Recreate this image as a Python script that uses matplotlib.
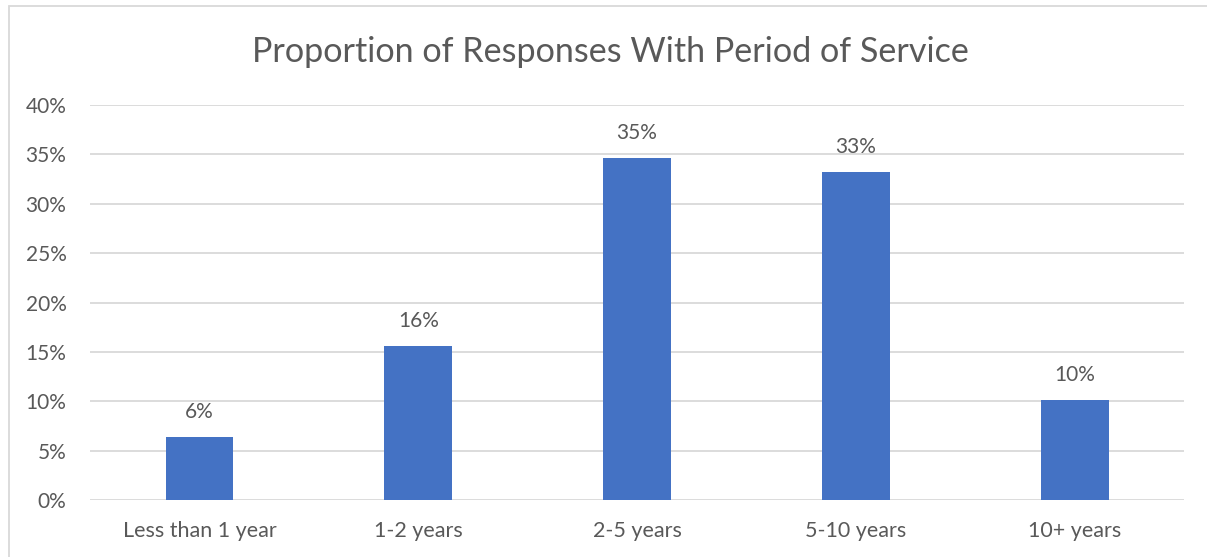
import matplotlib
matplotlib.use("Agg")
import matplotlib.pyplot as plt
from matplotlib.ticker import PercentFormatter, MultipleLocator
from matplotlib.patches import Rectangle

# data
categories = ["Less than 1 year", "1-2 years", "2-5 years", "5-10 years", "10+ years"]
shares = [0.064, 0.156, 0.346, 0.332, 0.101]
title = "Proportion of Responses With Period of Service"

barColor = "#4472C4"
textColor = "#595959"
gridColor = "#D9D9D9"

plt.rcParams["font.family"] = ["Lato", "DejaVu Sans"]

fig = plt.figure(figsize=(12.07, 5.57), dpi=100)
ax = fig.add_axes([0.0746, 0.1023, 0.9064, 0.7092])

x = range(len(categories))
bars = ax.bar(x, shares, width=0.31, color=barColor, zorder=3)

for rect, v in zip(bars, shares):
	ax.annotate("{:.0%}".format(v), (rect.get_x() + rect.get_width() / 2, v),
		xytext=(0, 18), textcoords="offset points", ha="center", va="center",
		fontsize=15, color=textColor)

ax.set_xlim(-0.5, len(categories) - 0.5)
ax.set_ylim(0, 0.40)
ax.yaxis.set_major_locator(MultipleLocator(0.05))
ax.yaxis.set_major_formatter(PercentFormatter(1.0, decimals=0))
ax.set_xticks(list(x))
ax.set_xticklabels(categories)

ax.grid(axis="y", color=gridColor, linewidth=1.3, zorder=0)
for s in ax.spines.values():
	s.set_visible(False)
ax.tick_params(axis="both", length=0, labelsize=15, labelcolor=textColor)
ax.tick_params(axis="y", pad=17)
ax.tick_params(axis="x", labelsize=15.5, pad=15)

fig.text(0.506, 0.907, title, ha="center", va="center", fontsize=24.6, color=textColor)

# chart frame, cut off on the right and bottom
fig.patches.append(Rectangle((9 / 1207, -0.1), 1.2, 1 - 6 / 557 + 0.1,
	transform=fig.transFigure, fill=False, edgecolor=gridColor, linewidth=1.3))

fig.savefig("out.png", dpi=100)
